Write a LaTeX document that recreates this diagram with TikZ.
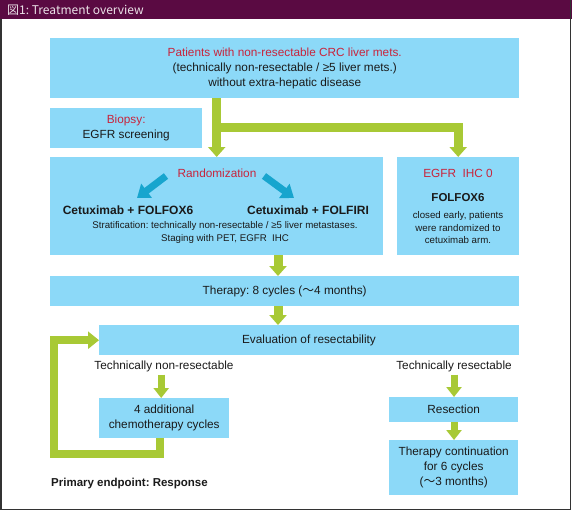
\documentclass[tikz,border=0pt]{standalone}
\usepackage{fontspec}
\setmainfont{Liberation Sans}
\newfontfamily\cjkfont{Noto Sans CJK JP}
\usetikzlibrary{arrows.meta,calc}
\definecolor{boxblue}{HTML}{8CD9F8}
\definecolor{gr}{HTML}{A8C935}
\definecolor{redtxt}{HTML}{C8243C}
\definecolor{cyanarr}{HTML}{17A5CE}
\definecolor{titlebar}{HTML}{5A0A42}
\definecolor{txt}{HTML}{1A1A1A}
\newcommand{\wdash}{{\cjkfont 〜}}
\tikzset{
  box/.style={fill=boxblue, draw=none, inner sep=0pt, anchor=north west, text=txt},
  lbl/.style={inner sep=0pt, text=txt, align=center, font=\fontsize{11.8}{15}\selectfont},
  small/.style={inner sep=0pt, text=txt, align=center, font=\fontsize{9.7}{12.5}\selectfont},
  boldlbl/.style={inner sep=0pt, text=txt, font=\fontsize{12}{14}\selectfont\bfseries},
  garrow/.style={draw=gr, line width=9pt, -{Triangle[width=17pt,length=10pt]}},
  gline/.style={draw=gr, line width=9pt, line join=miter},
  gsmall/.style={draw=gr, line width=7pt, -{Triangle[width=15pt,length=10pt]}},
  carrow/.style={draw=cyanarr, line width=7pt, -{Triangle[width=17pt,length=12pt]}},
}
\begin{document}
\frenchspacing
\begin{tikzpicture}[x=1pt,y=-1pt]
\useasboundingbox (0,0) rectangle (572,511);
% frame and title
\fill[white] (0,0) rectangle (572,511);
\fill[titlebar] (0,0) rectangle (572,19);
\draw[color=black!80, line width=1.5pt] (0.75,19) -- (0.75,509.5) -- (570.5,509.5) -- (570.5,0);
\node[anchor=west, inner sep=0pt, text=white!88!titlebar, font=\cjkfont\fontsize{12}{14}\selectfont] (title) at (7,10) {図1: Treatment overview};

% boxes
\node[box, minimum width=469pt, minimum height=60pt] (top) at (50,38) {};
\node[lbl] (toptxt) at (top.center) {\textcolor{redtxt}{Patients with non-resectable CRC liver mets.}\\(technically non-resectable / ≥5 liver mets.)\\without extra-hepatic disease};

\node[box, minimum width=152pt, minimum height=40pt] (bio) at (50,108) {};
\node[lbl] (biotxt) at (bio.center) {\textcolor{redtxt}{Biopsy:}\\EGFR screening};

\node[box, minimum width=333pt, minimum height=98pt] (rand) at (50,157) {};
\node[box, minimum width=122pt, minimum height=98pt] (egfr) at (397,157) {};

\node[lbl, text=redtxt] (randlbl) at (217,173) {Randomization};
\node[boldlbl] (cf6) at (128,210) {Cetuximab + FOLFOX6};
\node[boldlbl] (cfi) at (308,210) {Cetuximab + FOLFIRI};
\node[small] (strat) at (225,232.5) {Stratification: technically non-resectable / ≥5 liver metastases.\\Staging with PET, EGFR\ \ IHC};

\node[lbl, text=redtxt] (egfrlbl) at (458,173) {EGFR\ \ IHC 0};
\node[boldlbl, font=\fontsize{11.5}{14}\selectfont\bfseries] (fx6) at (458,198) {FOLFOX6};
\node[small] (closed) at (458,228) {closed early, patients\\were randomized to\\cetuximab arm.};

\node[box, minimum width=469pt, minimum height=30pt] (ther) at (50,276) {};
\node[lbl] (thertxt) at (ther.center) {Therapy: 8 cycles (\wdash4 months)};

\node[box, minimum width=420pt, minimum height=30pt] (eval) at (99,325) {};
\node[lbl] (evaltxt) at (309,340) {Evaluation of resectability};

\node[lbl] (tnr) at (164,366) {Technically non-resectable};
\node[lbl] (tr) at (454,366) {Technically resectable};

\node[box, minimum width=130pt, minimum height=40pt] (add) at (99,398) {};
\node[lbl] (addtxt) at (add.center) {4 additional\\chemotherapy cycles};

\node[box, minimum width=129pt, minimum height=25pt] (res) at (389,397) {};
\node[lbl] (restxt) at (res.center) {Resection};

\node[box, minimum width=129pt, minimum height=55pt] (cont) at (389,440) {};
\node[lbl] (conttxt) at (cont.center) {Therapy continuation\\for 6 cycles\\(\wdash3 months)};

\node[boldlbl, font=\fontsize{11.5}{14}\selectfont\bfseries, anchor=west] (pe) at (51,484) {Primary endpoint: Response};

% green connectors
\coordinate (split) at ($(top.south -| rand.north)!0.49!(rand.north)$);
\draw[garrow] (top.south -| rand.north) -- (rand.north);
\draw[gline] (split) -| ([yshift=9pt]egfr.north);
\draw[garrow] ([yshift=10pt]egfr.north) -- (egfr.north);

\coordinate (ax) at (278,0);
\draw[garrow] (rand.south -| ax) -- (ther.north -| ax);
\draw[garrow] (ther.south -| ax) -- (eval.north -| ax);

\draw[gsmall] ([yshift=-3pt]tnr.south -| add.north) ++(-3,0) coordinate (s1) -- (add.north -| s1);
\draw[gsmall] ([yshift=-3pt]tr.south) -- (res.north -| tr.south);
\draw[gsmall] (res.south -| tr.south) -- (cont.north -| tr.south);

\coordinate (lb) at (160,454);
\coordinate (lc) at (54,454);
\draw[gline, line width=8pt, -{Triangle[width=17pt,length=11pt]}] (add.south -| lb) -- (lb) -- (lc) |- (eval.west);

% cyan arrows
\coordinate (c1s) at (166,176);
\coordinate (c1e) at (137,198);
\coordinate (c2s) at (264,176);
\coordinate (c2e) at (294,198);
\draw[carrow] (c1s) -- (c1e);
\draw[carrow] (c2s) -- (c2e);
\end{tikzpicture}
\end{document}
